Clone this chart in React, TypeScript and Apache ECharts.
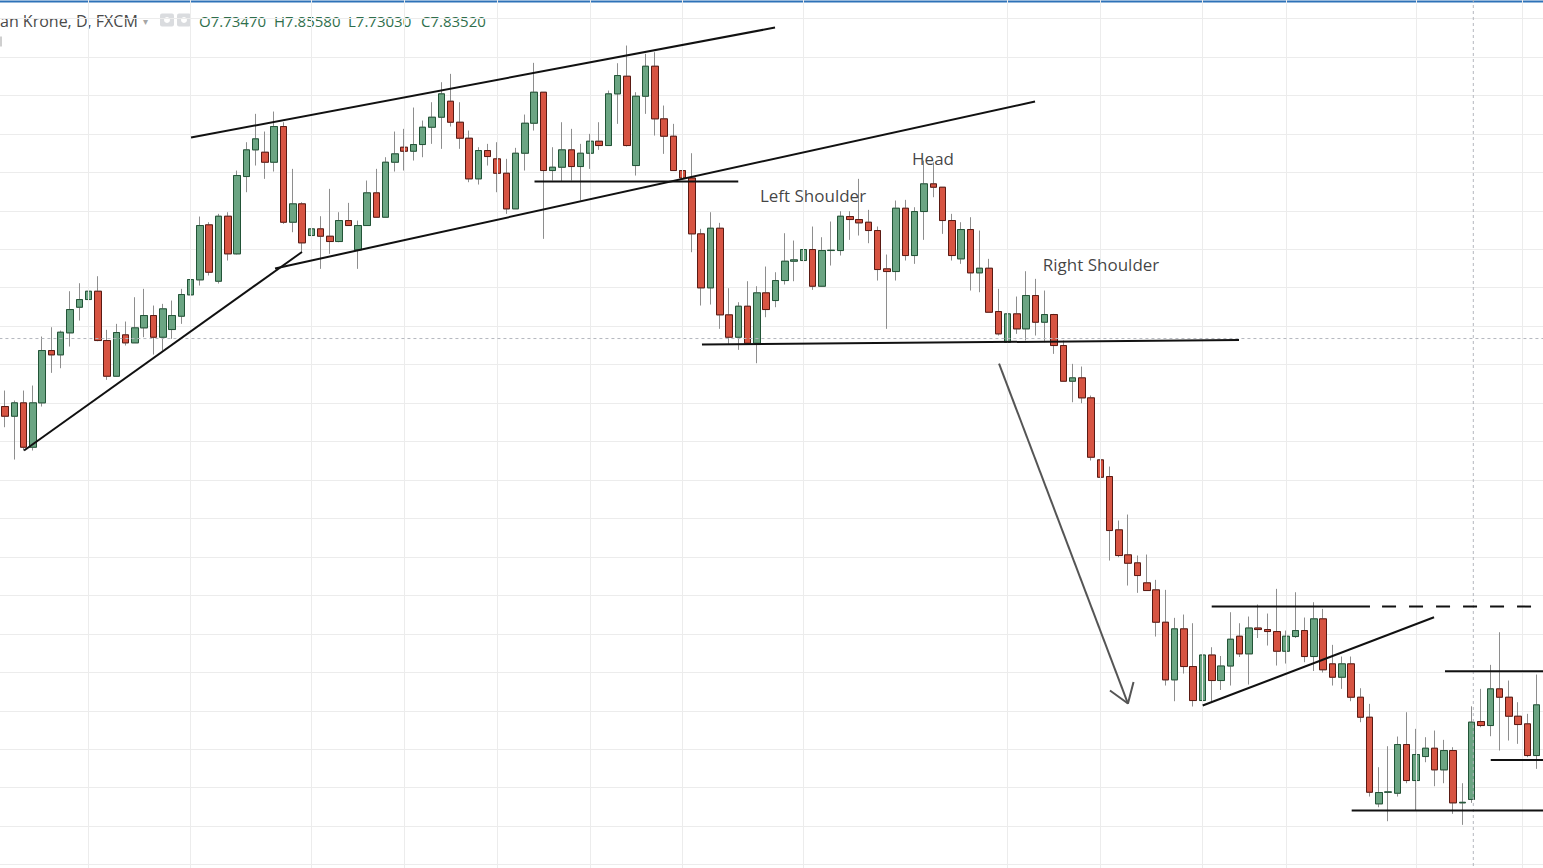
import React, { useEffect, useRef } from "react";
import * as echarts from "echarts";

// ---- OHLC data (USD/NOK daily) ----
const open = [
  8.2455, 8.2329, 8.2503, 8.1926, 8.2503, 8.3183, 8.3127, 8.3413, 8.3746, 8.3846,
  8.3954, 8.3313, 8.2849, 8.3387, 8.3283, 8.3478, 8.3638, 8.3356, 8.3456, 8.3629,
  8.3907, 8.4102, 8.4817, 8.4084, 8.4929, 8.4440, 8.5445, 8.5792, 8.5761, 8.5631,
  8.6095, 8.4851, 8.5090, 8.4678, 8.4765, 8.4669, 8.4600, 8.4873, 8.4492, 8.4808,
  8.5233, 8.4916, 8.5631, 8.5826, 8.5774, 8.5861, 8.6086, 8.6216, 8.6424, 8.6151,
  8.5943, 8.5415, 8.5783, 8.5675, 8.5488, 8.5025, 8.5748, 8.6138, 8.6541, 8.5523,
  8.5566, 8.5792, 8.5575, 8.5748, 8.5904, 8.5848, 8.6520, 8.6749, 8.5588, 8.6489,
  8.6879, 8.6195, 8.5969, 8.5523, 8.5426, 8.4700, 8.3998, 8.4773, 8.3647, 8.3356,
  8.3759, 8.3278, 8.3933, 8.3833, 8.4093, 8.4344, 8.4353, 8.4496, 8.4019, 8.4483,
  8.4483, 8.4925, 8.4886, 8.4851, 8.4743, 8.4245, 8.4210, 8.5033, 8.4418, 8.4990,
  8.5350, 8.5306, 8.4873, 8.4375, 8.4756, 8.4193, 8.4253, 8.3690, 8.3291, 8.3660,
  8.3465, 8.3898, 8.3551, 8.3651, 8.3248, 8.2784, 8.2828, 8.2568, 8.1762, 8.1545,
  8.0852, 8.0527, 8.0423, 8.0163, 8.0072, 7.9651, 7.8902, 7.9565, 7.9075, 7.8633,
  7.9225, 7.8893, 7.9082, 7.9469, 7.9240, 7.9576, 7.9556, 7.9530, 7.9274, 7.9465,
  7.9543, 7.9205, 7.9695, 7.9110, 7.8936, 7.9110, 7.8676, 7.8416, 7.7290, 7.7441,
  7.7428, 7.8061, 7.7593, 7.7905, 7.8013, 7.7732, 7.7983, 7.7303, 7.7347, 7.8360,
  7.8308, 7.8785, 7.8676, 7.8429, 7.8330, 7.7918,
];
const close = [
  8.2329, 8.2503, 8.1926, 8.2503, 8.3183, 8.3127, 8.3421, 8.3716, 8.3846, 8.3954,
  8.3313, 8.2849, 8.3417, 8.3283, 8.3478, 8.3638, 8.3356, 8.3725, 8.3638, 8.3911,
  8.4106, 8.4808, 8.4201, 8.4929, 8.4440, 8.5458, 8.5792, 8.5935, 8.5631, 8.6095,
  8.4851, 8.5090, 8.4583, 8.4765, 8.4669, 8.4600, 8.4873, 8.4808, 8.4808, 8.5233,
  8.4916, 8.5631, 8.5740, 8.5774, 8.5861, 8.6086, 8.6216, 8.6520, 8.6151, 8.5943,
  8.5415, 8.5783, 8.5705, 8.5488, 8.5025, 8.5748, 8.6138, 8.6541, 8.5523, 8.5566,
  8.5792, 8.5575, 8.5748, 8.5904, 8.5848, 8.6520, 8.6758, 8.5848, 8.6489, 8.6879,
  8.6195, 8.5969, 8.5523, 8.5426, 8.4700, 8.3998, 8.4773, 8.3647, 8.3356, 8.3759,
  8.3278, 8.3933, 8.3716, 8.4093, 8.4344, 8.4362, 8.4496, 8.4019, 8.4483, 8.4487,
  8.4929, 8.4886, 8.4843, 8.4743, 8.4236, 8.4210, 8.5033, 8.4418, 8.4990, 8.5350,
  8.5306, 8.4873, 8.4418, 8.4756, 8.4193, 8.4253, 8.3681, 8.3400, 8.3660, 8.3465,
  8.3898, 8.3551, 8.3651, 8.3248, 8.2784, 8.2828, 8.2568, 8.1796, 8.1536, 8.0843,
  8.0518, 8.0418, 8.0258, 8.0063, 7.9651, 7.8902, 7.9565, 7.9075, 7.8633, 7.9225,
  7.8893, 7.9082, 7.9430, 7.9240, 7.9576, 7.9556, 7.9530, 7.9274, 7.9469, 7.9543,
  7.9205, 7.9695, 7.9033, 7.8936, 7.9110, 7.8676, 7.8416, 7.7441, 7.7437, 7.7445,
  7.8061, 7.7593, 7.7931, 7.8013, 7.7732, 7.7983, 7.7303, 7.7310, 7.8352, 7.8308,
  7.8785, 7.8676, 7.8429, 7.8321, 7.7918, 7.8577,
];
const low = [
  8.2186, 8.1766, 8.1883, 8.1883, 8.2455, 8.2893, 8.2953, 8.3235, 8.3573, 8.3543,
  8.3304, 8.2802, 8.2845, 8.3248, 8.3283, 8.3356, 8.3131, 8.3183, 8.3335, 8.3530,
  8.3681, 8.4028, 8.4158, 8.4054, 8.4353, 8.4431, 8.5241, 8.5588, 8.5415, 8.5510,
  8.4830, 8.4721, 8.4453, 8.4375, 8.4245, 8.4440, 8.4591, 8.4808, 8.4245, 8.4808,
  8.4916, 8.4916, 8.5510, 8.5523, 8.5653, 8.5696, 8.5870, 8.5805, 8.6095, 8.5805,
  8.5371, 8.5341, 8.5588, 8.5241, 8.4960, 8.5025, 8.5523, 8.6043, 8.4635, 8.5393,
  8.5384, 8.5393, 8.5133, 8.5545, 8.5792, 8.5848, 8.6130, 8.5835, 8.5458, 8.6260,
  8.5978, 8.5740, 8.5523, 8.4938, 8.4461, 8.3768, 8.3781, 8.3465, 8.3270, 8.3192,
  8.3278, 8.3018, 8.3616, 8.3746, 8.4041, 8.4084, 8.4102, 8.3972, 8.4015, 8.4288,
  8.4418, 8.4622, 8.4678, 8.4578, 8.4093, 8.3465, 8.4093, 8.4353, 8.4310, 8.4622,
  8.5176, 8.4700, 8.4353, 8.4310, 8.3963, 8.3941, 8.3681, 8.3378, 8.3291, 8.3400,
  8.3313, 8.3378, 8.3291, 8.3140, 8.2784, 8.2511, 8.2498, 8.1753, 8.1276, 8.0453,
  8.0496, 8.0128, 8.0033, 8.0063, 7.9465, 7.8828, 7.8624, 7.8984, 7.8555, 7.8536,
  7.8620, 7.8770, 7.8828, 7.9199, 7.8841, 7.9446, 7.9348, 7.9088, 7.9114, 7.9446,
  7.9131, 7.9017, 7.8997, 7.8828, 7.8785, 7.8624, 7.8351, 7.7385, 7.7246, 7.7064,
  7.7385, 7.7558, 7.7203, 7.7831, 7.7519, 7.7558, 7.7160, 7.7017, 7.7303, 7.8286,
  7.8169, 7.7983, 7.8113, 7.8070, 7.7896, 7.7745,
];
const high = [
  8.2663, 8.2533, 8.2663, 8.2728, 8.3365, 8.3486, 8.3443, 8.3954, 8.4058, 8.4201,
  8.4149, 8.3452, 8.3530, 8.3560, 8.3876, 8.3985, 8.3768, 8.3790, 8.3833, 8.3985,
  8.4236, 8.4925, 8.4851, 8.4960, 8.4981, 8.5523, 8.5891, 8.6260, 8.6030, 8.6290,
  8.6151, 8.5545, 8.5111, 8.4947, 8.4929, 8.5285, 8.4981, 8.5103, 8.4873, 8.5393,
  8.5545, 8.5696, 8.6030, 8.6065, 8.6342, 8.6173, 8.6411, 8.6671, 8.6780, 8.6411,
  8.6043, 8.5826, 8.5870, 8.5891, 8.5675, 8.5818, 8.6251, 8.6923, 8.6541, 8.5826,
  8.6151, 8.6065, 8.5870, 8.6000, 8.6151, 8.6563, 8.6918, 8.7148, 8.6541, 8.7040,
  8.7061, 8.6368, 8.6130, 8.5761, 8.5748, 8.4765, 8.4981, 8.4843, 8.3993, 8.3811,
  8.4084, 8.4019, 8.4275, 8.4201, 8.4708, 8.4613, 8.4743, 8.4795, 8.4656, 8.4860,
  8.4994, 8.4994, 8.5415, 8.5012, 8.4795, 8.4431, 8.5133, 8.5142, 8.5046, 8.5653,
  8.5631, 8.5306, 8.4960, 8.4851, 8.4916, 8.4743, 8.4375, 8.3985, 8.3768, 8.3885,
  8.4214, 8.4115, 8.3963, 8.3660, 8.3313, 8.3010, 8.2975, 8.2598, 8.2065, 8.1675,
  8.0973, 8.1051, 8.0518, 8.0531, 8.0202, 8.0072, 7.9708, 7.9751, 7.9638, 7.9361,
  7.9326, 7.9212, 7.9781, 7.9638, 7.9725, 7.9881, 7.9764, 8.0085, 7.9543, 8.0041,
  7.9712, 7.9911, 7.9825, 7.9357, 7.9205, 7.9205, 7.8793, 7.8590, 7.7766, 7.8039,
  7.8165, 7.8481, 7.8265, 7.8156, 7.8243, 7.8122, 7.8026, 7.7558, 7.8558, 7.8785,
  7.9097, 7.9521, 7.8893, 7.8611, 7.8460, 7.8971,
];

// trading days (category axis)
const days: string[] = (() => {
  const out: string[] = [];
  const d = new Date(Date.UTC(2017, 0, 2));
  while (out.length < open.length) {
    const wd = d.getUTCDay();
    if (wd !== 0 && wd !== 6) out.push(d.toISOString().slice(0, 10));
    d.setUTCDate(d.getUTCDate() + 1);
  }
  return out;
})();

// candle indices that carry a vertical grid line
const gridDays = [9, 20, 33, 43, 53, 63, 73, 86, 108, 118, 129, 138, 152, 163.4];

// ---- drawn annotations, [bar index, price] ----
const riseLine = [[2.05, 8.1883], [31.99, 8.4464]];
const channelTop = [[20.04, 8.5952], [82.95, 8.7382]];
const channelBottom = [[29.09, 8.4249], [110.96, 8.642]];
const breakLevel = [[57.04, 8.538], [78.99, 8.538]];
const neckline = [[75.08, 8.3261], [132.93, 8.332]];
const rangeTop = [[129.99, 7.9855], [147.04, 7.9855]];
const rangeTopExt = [[148.34, 7.9855], [165.7, 7.9855]];
const wedgeLine = [[129.02, 7.8568], [153.94, 7.9716]];
const boxTop = [[155.12, 7.9014], [165.7, 7.9014]];
const boxMid = [[160.05, 7.786], [165.7, 7.786]];
const boxBottom = [[145.07, 7.7203], [165.7, 7.7203]];
const arrowShaft = [[107.08, 8.3014], [120.97, 7.8594]];
const arrowHead = [[119.03, 7.8763], [120.97, 7.8594], [121.57, 7.8874]];
const crossH = [[-0.6, 8.3339], [165.7, 8.3339]];
const crossV = [[158.17, 7.5], [158.17, 8.8]];

const labelNames = ["Left Shoulder", "Head", "Right Shoulder"];
const labelX = [87.04, 99.97, 118.07];
const labelY = [8.5198, 8.5679, 8.4301];

const headerParts = ["O7.73470", "H7.85580", "L7.73030", "C7.83520"];

// the chart box is taller than the window so that the price scale
// (7.50 .. 8.80) keeps round grid lines; it is shifted up by TOP_SHIFT px
const TOP_SHIFT = 20.5;
const PAD_L = 5;
const PAD_R = 6.3;

export default function App() {
  const ref = useRef<HTMLDivElement>(null);

  useEffect(() => {
    if (!ref.current) return;
    const chart = echarts.init(ref.current, undefined, { renderer: "svg" });
    const n = open.length;
    const step = (1543 - PAD_L - PAD_R) / (n - 1);
    const full = open.map((o, i) => [o, close[i], low[i], high[i]]);
    const bodies = open.map((o, i) => [o, close[i], Math.min(o, close[i]), Math.max(o, close[i])]);

    const line = (data: number[][], color: string, width: number, type: any = "solid") => ({
      type: "line",
      xAxisIndex: 1,
      yAxisIndex: 1,
      data,
      symbol: "none",
      silent: true,
      clip: false,
      z: 5,
      lineStyle: { color, width, type },
    });

    const font = "'Open Sans', 'DejaVu Sans', sans-serif";
    const hy = 20 + TOP_SHIFT;
    const hidden = {
      axisLine: { show: false },
      axisTick: { show: false },
      axisLabel: { show: false },
    };

    chart.setOption({
      animation: false,
      backgroundColor: "#ffffff",
      grid: [
        { left: PAD_L, right: PAD_R, top: 0, bottom: 0 },
        { left: 0, right: 0, top: 0, bottom: 0 },
      ],
      xAxis: [
        {
          type: "category",
          gridIndex: 0,
          data: days,
          boundaryGap: false,
          ...hidden,
          splitLine: { show: false },
        },
        {
          type: "value",
          gridIndex: 1,
          min: -PAD_L / step,
          max: n - 1 + PAD_R / step,
          ...hidden,
          splitLine: { show: false },
        },
      ],
      yAxis: [
        { type: "value", gridIndex: 0, min: 7.5, max: 8.8, ...hidden, splitLine: { show: false } },
        {
          type: "value",
          gridIndex: 1,
          min: 7.5,
          max: 8.8,
          interval: 0.05,
          ...hidden,
          splitLine: { show: true, lineStyle: { color: "#ececec", width: 1 } },
        },
      ],
      series: [
        {
          type: "line",
          xAxisIndex: 1,
          yAxisIndex: 1,
          data: [],
          silent: true,
          z: 1,
          markLine: {
            silent: true,
            symbol: ["none", "none"],
            label: { show: false },
            lineStyle: { color: "#ececec", width: 1, type: "solid" },
            data: gridDays.map((d) => ({ xAxis: d })),
          },
        },
        line(crossH, "#b4b7be", 1, [3, 3]),
        line(crossV, "#b4b7be", 1, [3, 3]),
        {
          type: "candlestick",
          name: "wicks",
          xAxisIndex: 0,
          yAxisIndex: 0,
          data: full,
          barWidth: 7,
          clip: false,
          silent: true,
          z: 2,
          itemStyle: {
            color: "rgba(0,0,0,0)",
            color0: "rgba(0,0,0,0)",
            borderColor: "#8e8e8e",
            borderColor0: "#8e8e8e",
            borderWidth: 1,
          },
        },
        {
          type: "candlestick",
          name: "USD/NOK",
          xAxisIndex: 0,
          yAxisIndex: 0,
          data: bodies,
          barWidth: 7,
          clip: false,
          silent: true,
          z: 3,
          itemStyle: {
            color: "#6ba583",
            color0: "#d75442",
            borderColor: "#225437",
            borderColor0: "#5b1a13",
            borderWidth: 1,
          },
        },
        line(riseLine, "#111111", 2),
        line(channelTop, "#111111", 2),
        line(channelBottom, "#111111", 2),
        line(breakLevel, "#111111", 2),
        line(neckline, "#111111", 2),
        line(rangeTop, "#111111", 2),
        line(rangeTopExt, "#111111", 2, [14, 13]),
        line(wedgeLine, "#111111", 2),
        line(boxTop, "#111111", 2),
        line(boxMid, "#111111", 2),
        line(boxBottom, "#111111", 2),
        line(arrowShaft, "#555555", 2),
        line(arrowHead, "#555555", 2),
        {
          type: "scatter",
          xAxisIndex: 1,
          yAxisIndex: 1,
          symbolSize: 1,
          silent: true,
          z: 6,
          itemStyle: { color: "rgba(0,0,0,0)" },
          data: labelNames.map((nm, i) => [labelX[i], labelY[i], nm]),
          label: {
            show: true,
            position: "inside",
            formatter: (p: any) => p.data[2],
            color: "#111111",
            fontSize: 17,
            fontFamily: font,
          },
        },
      ],
      graphic: [
        { type: "rect", shape: { x: 0, y: TOP_SHIFT, width: 1543, height: 2 }, style: { fill: "#2e72b8" }, silent: true },
        {
          type: "text",
          x: 0,
          y: hy,
          style: { text: "an Krone, D, FXCM", fill: "#4a4a4a", font: `16px ${font}`, verticalAlign: "middle" },
          silent: true,
        },
        { type: "text", x: 143, y: hy, style: { text: "▾", fill: "#a6a6a6", font: `10px ${font}`, verticalAlign: "middle" }, silent: true },
        { type: "rect", shape: { x: 160, y: hy - 7, width: 14, height: 13, r: 2 }, style: { fill: "#dadcdf" }, silent: true },
        { type: "circle", shape: { cx: 167, cy: hy - 0.5, r: 3 }, style: { fill: "#ffffff" }, silent: true },
        { type: "rect", shape: { x: 177, y: hy - 7, width: 14, height: 13, r: 2 }, style: { fill: "#dadcdf" }, silent: true },
        { type: "circle", shape: { cx: 184, cy: hy - 0.5, r: 3 }, style: { fill: "#ffffff" }, silent: true },
        ...headerParts.map((t, i) => ({
          type: "text",
          x: [199, 274, 348, 421][i],
          y: hy,
          style: { text: t, fill: "#2f6f4c", font: `15px ${font}`, verticalAlign: "middle" },
          silent: true,
        })),
        { type: "rect", shape: { x: 0, y: 36 + TOP_SHIFT, width: 2, height: 10 }, style: { fill: "#cfcfcf" }, silent: true },
      ],
    });
    return () => chart.dispose();
  }, []);

  return (
    <div
      ref={ref}
      style={{ position: "fixed", left: 0, top: -TOP_SHIFT, width: 1543, height: 1000, background: "#fff" }}
    />
  );
}
